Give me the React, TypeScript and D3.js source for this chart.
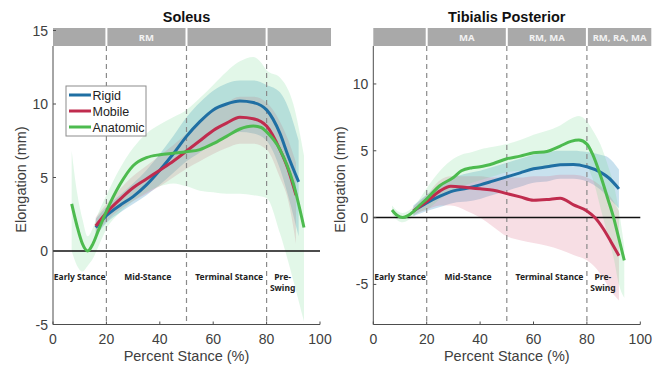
import React from "react";
import * as d3 from "d3";

// ---------- DATA ----------
const X_TICKS = [0, 20, 40, 60, 80, 100];
const PHASE_BOUNDS = [20, 50, 80];
const PHASE_NAMES = ["Early Stance", "Mid-Stance", "Terminal Stance", "Pre-|Swing"];
const PHASE_POS = [10, 35.5, 66, 86];
const SERIES_NAMES = ["Rigid", "Mobile", "Anatomic"];

// Soleus
const SOL_TITLE = "Soleus";
const SOL_Y_TICKS = [-5, 0, 5, 10, 15];
const SOL_BAND_LABELS = ["", "RM", "", ""];
const SOL_RIGID_X = [16, 20, 25, 30, 35, 40, 45, 50, 55, 60, 65, 70, 75, 80, 85, 88, 92];
const SOL_RIGID_M = [1.6, 2.4, 3.1, 3.7, 4.5, 5.5, 6.6, 7.8, 8.8, 9.6, 10.0, 10.2, 10.1, 9.6, 8.0, 6.5, 4.7];
const SOL_RIGID_LO = [1.0, 1.9, 2.6, 3.2, 3.8, 4.5, 5.3, 6.1, 6.7, 7.3, 7.8, 8.1, 8.0, 7.5, 5.6, 3.8, 1.0];
const SOL_RIGID_HI = [2.2, 3.0, 3.8, 4.6, 5.5, 6.6, 7.8, 9.1, 10.1, 10.9, 11.4, 11.6, 11.6, 11.3, 10.8, 9.8, 7.5];
const SOL_MOBILE_X = [16, 20, 25, 30, 35, 40, 45, 50, 55, 60, 65, 70, 75, 80, 85, 88, 91];
const SOL_MOBILE_M = [1.7, 2.6, 3.5, 4.3, 4.9, 5.5, 6.1, 6.8, 7.5, 8.2, 8.7, 9.1, 9.0, 8.5, 6.9, 5.6, 3.8];
const SOL_MOBILE_LO = [1.1, 2.0, 2.8, 3.4, 3.9, 4.4, 5.0, 5.6, 6.1, 6.6, 7.0, 7.3, 7.3, 6.9, 5.0, 3.5, 0.5];
const SOL_MOBILE_HI = [2.3, 3.2, 4.2, 5.1, 5.8, 6.5, 7.2, 8.0, 8.8, 9.6, 10.1, 10.5, 10.5, 10.1, 8.8, 7.6, 6.0];
const SOL_ANAT_X = [7, 9, 11, 13, 15, 17, 20, 25, 30, 35, 40, 45, 50, 55, 60, 65, 70, 75, 78, 80, 85, 90, 94];
const SOL_ANAT_M = [3.2, 1.7, 0.5, 0.0, 0.5, 1.4, 2.7, 4.5, 5.8, 6.35, 6.55, 6.65, 6.75, 6.9, 7.3, 7.8, 8.3, 8.5, 8.4, 8.1, 6.9, 4.6, 1.6];
const SOL_ANAT_LO = [0.0, -1.0, -1.4, -1.0, -0.5, 0.3, 1.5, 2.6, 3.4, 4.0, 4.4, 4.6, 4.4, 4.1, 4.0, 3.9, 3.9, 3.8, 3.7, 3.6, 1.2, -2.0, -4.8];
const SOL_ANAT_HI = [6.8, 4.0, 2.2, 1.0, 1.6, 2.6, 3.8, 5.6, 7.0, 8.0, 8.6, 9.1, 9.6, 10.4, 11.3, 12.2, 12.9, 13.2, 12.8, 12.3, 11.8, 10.0, 6.5];

// Tibialis Posterior
const TP_TITLE = "Tibialis Posterior";
const TP_Y_TICKS = [-5, 0, 5, 10];
const TP_BAND_LABELS = ["", "MA", "RM, MA", "RM, RA, MA"];
const TP_RIGID_X = [15, 20, 25, 30, 35, 40, 45, 50, 55, 60, 65, 70, 75, 80, 85, 88, 92];
const TP_RIGID_M = [0.5, 1.1, 1.6, 2.0, 2.2, 2.45, 2.75, 3.05, 3.35, 3.65, 3.8, 3.95, 3.98, 3.8, 3.4, 3.0, 2.15];
const TP_RIGID_LO = [0.1, 0.5, 0.8, 1.1, 1.2, 1.4, 1.7, 2.0, 2.3, 2.6, 2.7, 2.9, 2.9, 2.7, 2.1, 1.5, 0.7];
const TP_RIGID_HI = [0.9, 1.7, 2.5, 3.0, 3.3, 3.5, 3.8, 4.1, 4.4, 4.7, 4.9, 5.0, 5.0, 4.9, 4.7, 4.5, 3.6];
const TP_MOBILE_X = [15, 20, 25, 29, 35, 40, 45, 50, 55, 60, 65, 70, 75, 80, 83, 86, 89, 92];
const TP_MOBILE_M = [0.5, 1.2, 2.0, 2.35, 2.25, 2.15, 2.05, 1.8, 1.55, 1.3, 1.35, 1.45, 0.95, 0.5, 0.0, -0.8, -1.8, -2.85];
const TP_MOBILE_LO = [0.2, 0.6, 0.9, 0.9, 0.5, 0.0, -0.7, -1.4, -1.7, -1.9, -2.1, -2.4, -2.8, -3.2, -3.7, -4.5, -5.5, -6.2];
const TP_MOBILE_HI = [0.8, 1.7, 2.8, 3.1, 3.1, 3.1, 3.0, 3.0, 3.0, 3.1, 3.1, 3.2, 3.2, 3.0, 2.7, 2.2, 1.5, 0.5];
const TP_ANAT_X = [7, 9, 11, 13, 15, 17, 20, 25, 30, 33, 37, 40, 45, 50, 55, 60, 65, 70, 74, 77, 80, 82, 85, 88, 90, 92, 94];
const TP_ANAT_M = [0.57, 0.15, 0.0, 0.15, 0.45, 0.85, 1.4, 2.4, 3.0, 3.5, 3.73, 3.8, 4.05, 4.4, 4.6, 4.85, 4.95, 5.35, 5.7, 5.8, 5.5, 4.8, 3.2, 1.3, 0.0, -1.6, -3.2];
const TP_ANAT_LO = [0.25, -0.2, -0.35, -0.2, 0.1, 0.4, 0.6, 1.4, 2.0, 2.3, 2.6, 2.8, 3.1, 3.4, 3.5, 3.6, 3.7, 3.9, 4.0, 4.0, 3.8, 3.0, 0.8, -1.5, -3.0, -5.0, -6.0];
const TP_ANAT_HI = [0.9, 0.5, 0.35, 0.5, 0.8, 1.3, 2.2, 3.5, 4.4, 4.7, 4.9, 5.1, 5.3, 5.5, 5.8, 6.2, 6.5, 6.9, 7.4, 7.6, 7.2, 6.6, 5.5, 3.8, 2.5, 0.5, -2.2];

// ---------- STYLE ----------
const LINE_COLORS = ["#1f6fa3", "#c02c4e", "#4dbb4f"];
const FILL_COLORS = ["#2b8cbf", "#d95a7a", "#6fd88a"];
const FILL_OPACITY = [0.26, 0.2, 0.2];
const FONT = "'Liberation Sans', Arial, sans-serif";
const LABEL_FONT = "'Noto Sans', 'DejaVu Sans', sans-serif";

type Series = { x: number[]; m: number[]; lo: number[]; hi: number[] };

function Panel(props: {
  x0: number; x1: number; yTop: number; yBot: number; yDomain: [number, number];
  yTicks: number[]; title: string; bandLabels: string[]; series: Series[];
  yLabelX: number; showLegend?: boolean;
}) {
  const { x0, x1, yTop, yBot, yDomain, yTicks, title, bandLabels, series, yLabelX, showLegend } = props;
  const xs = d3.scaleLinear().domain([0, 100]).range([x0, x1]);
  const ys = d3.scaleLinear().domain(yDomain).range([yBot, yTop]);
  const bandTop = 28, bandBot = 46;
  const bandEnd = x1 + 11;
  const segs = [0, ...PHASE_BOUNDS];
  const segEnds = [...PHASE_BOUNDS, null];
  const axisCol = "#4d4d4d";
  const midX = (x0 + x1) / 2;

  const area = (s: Series) =>
    d3.area<number>()
      .x((_, i) => xs(s.x[i]))
      .y0((_, i) => ys(s.lo[i]))
      .y1((_, i) => ys(s.hi[i]))
      .curve(d3.curveMonotoneX)(s.x) || "";
  const line = (s: Series) =>
    d3.line<number>()
      .x((_, i) => xs(s.x[i]))
      .y((_, i) => ys(s.m[i]))
      .curve(d3.curveMonotoneX)(s.x) || "";

  return (
    <g>
      <text x={midX} y={22} textAnchor="middle" fontFamily={FONT} fontWeight="bold" fontSize={14.5} fill="#111">{title}</text>
      {series.map((s, i) => (
        <path key={"a" + i} d={area(s)} fill={FILL_COLORS[i]} fillOpacity={FILL_OPACITY[i]} stroke="none" />
      ))}
      {PHASE_BOUNDS.map((b) => (
        <line key={"d" + b} x1={xs(b)} x2={xs(b)} y1={bandBot} y2={yBot} stroke="#8a8a8a" strokeWidth={1.2} strokeDasharray="5,4" />
      ))}
      <line x1={x0} x2={x1} y1={ys(0)} y2={ys(0)} stroke="#111" strokeWidth={1.5} />
      {series.map((s, i) => (
        <path key={"l" + i} d={line(s)} fill="none" stroke={LINE_COLORS[i]} strokeWidth={3} strokeLinejoin="round" strokeLinecap="butt" />
      ))}
      {segs.map((s, i) => {
        const a = xs(s) + (i === 0 ? 0 : 1);
        const b = segEnds[i] == null ? bandEnd : xs(segEnds[i] as number) - 1;
        return (
          <g key={"b" + i}>
            <rect x={a} y={bandTop} width={b - a} height={bandBot - bandTop} fill="#a9a9a9" />
            {bandLabels[i] ? (
              <text x={(a + b) / 2} y={bandTop + 13} textAnchor="middle" fontFamily={LABEL_FONT} fontWeight="bold" fontSize={9.5} fill="#f2f2f2">{bandLabels[i]}</text>
            ) : null}
          </g>
        );
      })}
      <line x1={x0} x2={x0} y1={bandBot} y2={yBot} stroke={axisCol} strokeWidth={1} />
      <line x1={x0} x2={x1} y1={yBot} y2={yBot} stroke={axisCol} strokeWidth={1} />
      {X_TICKS.map((t) => (
        <g key={"xt" + t}>
          <line x1={xs(t)} x2={xs(t)} y1={yBot} y2={yBot - 3} stroke={axisCol} />
          <text x={xs(t)} y={yBot + 19} textAnchor="middle" fontFamily={FONT} fontSize={14} fill="#404040">{t}</text>
        </g>
      ))}
      {yTicks.map((t) => (
        <g key={"yt" + t}>
          <line x1={x0} x2={x0 + 3} y1={ys(t)} y2={ys(t)} stroke={axisCol} />
          <text x={x0 - 5} y={ys(t) + 5} textAnchor="end" fontFamily={FONT} fontSize={14} fill="#404040">{t}</text>
        </g>
      ))}
      {PHASE_NAMES.map((n, i) => {
        const parts = n.split("|");
        return (
          <text key={"p" + i} x={xs(PHASE_POS[i])} y={280} textAnchor="middle" fontFamily={LABEL_FONT} fontWeight="bold" fontSize={8.5} fill="#222">
            {parts.map((p, j) => (
              <tspan key={j} x={xs(PHASE_POS[i])} dy={j === 0 ? 0 : 11}>{p}</tspan>
            ))}
          </text>
        );
      })}
      <text x={midX} y={361} textAnchor="middle" fontFamily={FONT} fontSize={14.5} fill="#404040">Percent Stance (%)</text>
      <text transform={`translate(${yLabelX},${(yTop + yBot) / 2 + 2}) rotate(-90)`} textAnchor="middle" fontFamily={FONT} fontSize={14.5} fill="#404040">Elongation (mm)</text>
      {showLegend ? (
        <g>
          <rect x={66} y={86} width={80} height={50} fill="#fff" stroke="#8c8c8c" strokeWidth={1} />
          {SERIES_NAMES.map((n, i) => (
            <g key={"lg" + i}>
              <line x1={69} x2={91} y1={95 + i * 16} y2={95 + i * 16} stroke={LINE_COLORS[i]} strokeWidth={3} />
              <text x={92.5} y={99.5 + i * 16} fontFamily={FONT} fontSize={12.5} fill="#222">{n}</text>
            </g>
          ))}
        </g>
      ) : null}
    </g>
  );
}

export default function App() {
  const sol: Series[] = [
    { x: SOL_RIGID_X, m: SOL_RIGID_M, lo: SOL_RIGID_LO, hi: SOL_RIGID_HI },
    { x: SOL_MOBILE_X, m: SOL_MOBILE_M, lo: SOL_MOBILE_LO, hi: SOL_MOBILE_HI },
    { x: SOL_ANAT_X, m: SOL_ANAT_M, lo: SOL_ANAT_LO, hi: SOL_ANAT_HI },
  ];
  const tp: Series[] = [
    { x: TP_RIGID_X, m: TP_RIGID_M, lo: TP_RIGID_LO, hi: TP_RIGID_HI },
    { x: TP_MOBILE_X, m: TP_MOBILE_M, lo: TP_MOBILE_LO, hi: TP_MOBILE_HI },
    { x: TP_ANAT_X, m: TP_ANAT_M, lo: TP_ANAT_LO, hi: TP_ANAT_HI },
  ];
  return (
    <svg width={662} height={366} style={{ position: "absolute", left: 0, top: 0, background: "#fff" }}>
      <rect x={0} y={0} width={662} height={366} fill="#fff" />
      <Panel x0={53} x1={320} yTop={30.5} yBot={324.5} yDomain={[-5, 15]} yTicks={SOL_Y_TICKS}
        title={SOL_TITLE} bandLabels={SOL_BAND_LABELS} series={sol} yLabelX={26} showLegend />
      <Panel x0={373.3} x1={640.3} yTop={30.5} yBot={324.5} yDomain={[-8, 14]} yTicks={TP_Y_TICKS}
        title={TP_TITLE} bandLabels={TP_BAND_LABELS} series={tp} yLabelX={345} />
    </svg>
  );
}
